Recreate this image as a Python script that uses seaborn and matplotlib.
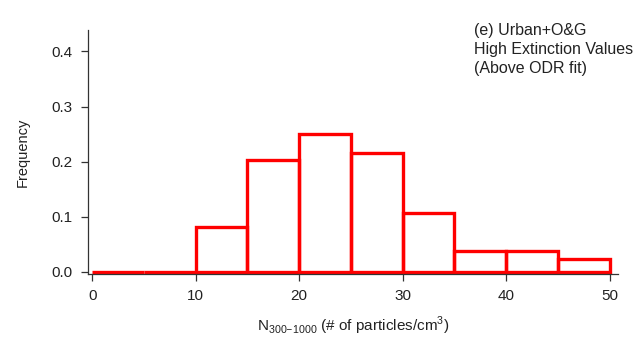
import matplotlib
matplotlib.use("Agg")
import matplotlib.pyplot as plt
import seaborn as sns
import numpy as np

# histogram (bin edges step 5)
bin_edges = [0, 5, 10, 15, 20, 25, 30, 35, 40, 45, 50]
frequency = [0.0, 0.0, 0.082, 0.203, 0.250, 0.216, 0.106, 0.037, 0.037, 0.023]
x_ticks = [0, 10, 20, 30, 40, 50]
y_ticks = [0.0, 0.1, 0.2, 0.3, 0.4]
note = "(e) Urban+O&G\nHigh Extinction Values\n(Above ODR fit)"

sns.set_style("ticks")
plt.rcParams['font.family'] = ['Liberation Sans', 'DejaVu Sans']
plt.rcParams['mathtext.fontset'] = 'custom'
plt.rcParams['mathtext.rm'] = 'Liberation Sans'

centers = [(bin_edges[i] + bin_edges[i + 1]) / 2 for i in range(len(frequency))]

fig = plt.figure(figsize=(6.4, 3.44), dpi=100)
ax = fig.add_axes([0.1375, 0.203, 0.828, 0.71])
sns.histplot(x=centers, weights=frequency, bins=bin_edges, fill=False,
             element="bars", color="#ff0000", linewidth=2.4, ax=ax)

ax.set_xlim(-0.4, 50.8)
ax.set_ylim(-0.0042, 0.439)
ax.set_xticks(x_ticks)
ax.set_yticks(y_ticks)
ax.set_yticklabels(["%.1f" % v for v in y_ticks])
sns.despine(ax=ax)
for s in ["left", "bottom"]:
    ax.spines[s].set_color("#333333")
    ax.spines[s].set_linewidth(0.9)
ax.tick_params(direction="out", length=5, width=0.9, color="#333333",
               labelsize=11, labelcolor="#222222", pad=6)

ax.set_ylabel("Frequency", fontsize=10.5, color="#222222", labelpad=16)
ax.set_xlabel(r"N$_{300\mathrm{-}1000}$ (# of particles/cm$^{3}$)",
              fontsize=11, color="#222222", labelpad=8)

fig.text(0.741, 0.932, note, fontsize=11.5, color="#222222",
         va="top", ha="left", linespacing=1.3)

plt.savefig("out.png", dpi=100)
